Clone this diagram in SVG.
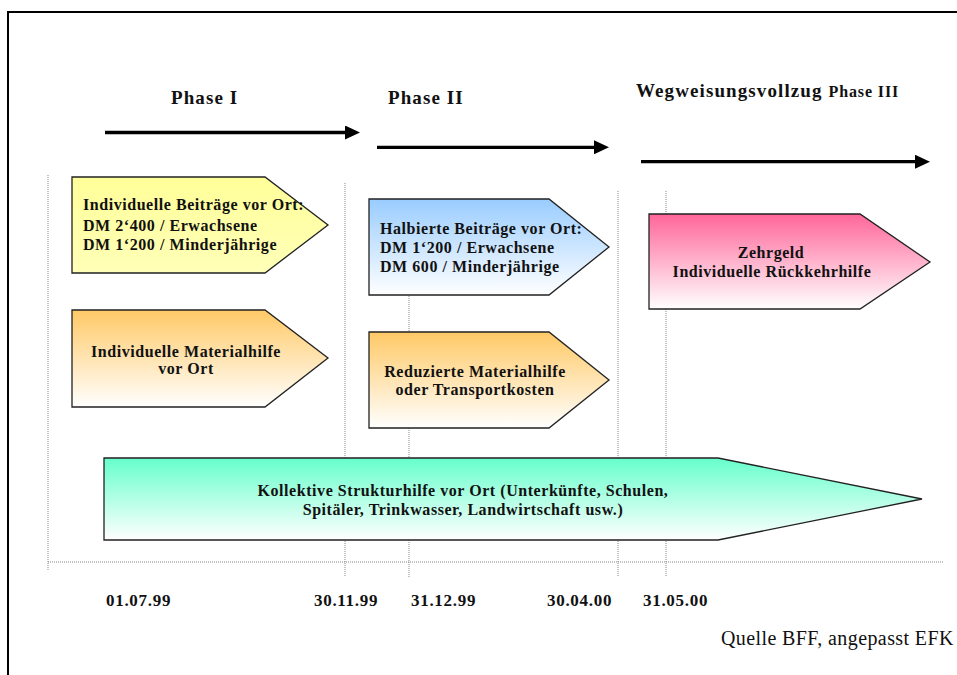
<svg xmlns="http://www.w3.org/2000/svg" width="957" height="675" viewBox="0 0 957 675">
<style>
text{font-family:"Liberation Serif","Times New Roman",serif;font-weight:bold;fill:#111;}
.ph{font-size:19px;letter-spacing:1.1px;}
.bx{font-size:16px;letter-spacing:0.55px;}
.dt{font-size:17px;letter-spacing:0.7px;}
.src{font-size:20px;font-weight:normal;letter-spacing:0.4px;}
.shape{stroke:#222;stroke-width:1.3;}
.grid{stroke:#888;stroke-width:1;stroke-dasharray:1 1;fill:none;}
.arr{stroke:#000;stroke-width:3.3;fill:none;marker-end:url(#ah);}
</style>
<defs>
<marker id="ah" markerUnits="userSpaceOnUse" markerWidth="16" markerHeight="14" refX="0" refY="7" orient="auto"><path d="M0,0 L15,7 L0,14 Z" fill="#000"/></marker>
<linearGradient id="gY" x1="0" y1="0" x2="0" y2="1"><stop offset="0" stop-color="#FFFF99"/><stop offset="1" stop-color="#FFFFB8"/></linearGradient>
<linearGradient id="gO" x1="0" y1="0" x2="0" y2="1"><stop offset="0" stop-color="#FFC966"/><stop offset="1" stop-color="#FFFFFF"/></linearGradient>
<linearGradient id="gB" x1="0" y1="0" x2="0" y2="1"><stop offset="0" stop-color="#99CCFF"/><stop offset="1" stop-color="#FFFFFF"/></linearGradient>
<linearGradient id="gP" x1="0" y1="0" x2="0" y2="1"><stop offset="0" stop-color="#FF6699"/><stop offset="1" stop-color="#FFFFFF"/></linearGradient>
<linearGradient id="gG" x1="0" y1="0" x2="0" y2="1"><stop offset="0" stop-color="#66FFCC"/><stop offset="1" stop-color="#FFFFFF"/></linearGradient>
</defs>
<rect x="0" y="0" width="957" height="675" fill="#fff"/>
<rect x="8" y="12" width="1000" height="700" fill="none" stroke="#000" stroke-width="2"/>

<g id="grid">
<line class="grid" x1="48" y1="175" x2="48" y2="570"/>
<line class="grid" x1="48" y1="562" x2="944" y2="562"/>
<line class="grid" x1="345" y1="183" x2="345" y2="577"/>
<line class="grid" x1="409" y1="200" x2="409" y2="577"/>
<line class="grid" x1="618" y1="191" x2="618" y2="577"/>
<line class="grid" x1="666" y1="191" x2="666" y2="577"/>
</g>

<g id="connectors">
<line class="arr" x1="105" y1="132.5" x2="345" y2="132.5"/>
<line class="arr" x1="377" y1="147.3" x2="594" y2="147.3"/>
<line class="arr" x1="641" y1="161.7" x2="915" y2="161.7"/>
</g>

<g id="phase1"><text class="ph" x="171" y="104">Phase I</text></g>
<g id="phase2"><text class="ph" x="388" y="104">Phase II</text></g>
<g id="phase3"><text class="ph" x="636" y="97">Wegweisungsvollzug <tspan style="font-size:16px;letter-spacing:0.9px">Phase III</tspan></text></g>

<g id="box-beitraege">
<path class="shape" d="M72,177 L265,177 L328,225 L265,273 L72,273 Z" fill="url(#gY)"/>
<text class="bx" x="83" y="210">Individuelle Beiträge vor Ort:</text>
<text class="bx" x="83" y="230.5">DM 2‘400 / Erwachsene</text>
<text class="bx" x="83" y="249.5">DM 1‘200 / Minderjährige</text>
</g>

<g id="box-materialhilfe">
<path class="shape" d="M72,310 L265,310 L328,358 L265,407 L72,407 Z" fill="url(#gO)"/>
<text class="bx" x="186" y="356.5" text-anchor="middle">Individuelle Materialhilfe</text>
<text class="bx" x="186" y="373.5" text-anchor="middle">vor Ort</text>
</g>

<g id="box-halbierte">
<path class="shape" d="M369,199 L549,199 L609,247 L549,295 L369,295 Z" fill="url(#gB)"/>
<text class="bx" x="380" y="234">Halbierte Beiträge vor Ort:</text>
<text class="bx" x="380" y="253">DM 1‘200 / Erwachsene</text>
<text class="bx" x="380" y="272">DM 600 / Minderjährige</text>
</g>

<g id="box-reduzierte">
<path class="shape" d="M369,332 L549,332 L609,380 L549,428 L369,428 Z" fill="url(#gO)"/>
<text class="bx" x="475" y="377" text-anchor="middle">Reduzierte Materialhilfe</text>
<text class="bx" x="475" y="395" text-anchor="middle">oder Transportkosten</text>
</g>

<g id="box-zehrgeld">
<path class="shape" d="M649,214 L860,214 L930,262 L860,309 L649,309 Z" fill="url(#gP)"/>
<text class="bx" x="771" y="257.5" text-anchor="middle">Zehrgeld</text>
<text class="bx" x="772" y="277" text-anchor="middle">Individuelle Rückkehrhilfe</text>
</g>

<g id="box-kollektive">
<path class="shape" d="M104,458 L718,458 L922,499 L718,540 L104,540 Z" fill="url(#gG)"/>
<text class="bx" x="463" y="495.5" text-anchor="middle">Kollektive Strukturhilfe vor Ort (Unterkünfte, Schulen,</text>
<text class="bx" x="463" y="515" text-anchor="middle">Spitäler, Trinkwasser, Landwirtschaft usw.)</text>
</g>

<g id="dates">
<text class="dt" x="106" y="606">01.07.99</text>
<text class="dt" x="314" y="606">30.11.99</text>
<text class="dt" x="411" y="606">31.12.99</text>
<text class="dt" x="547" y="606">30.04.00</text>
<text class="dt" x="643" y="606">31.05.00</text>
</g>

<g id="source"><text class="src" x="721" y="645">Quelle BFF, angepasst EFK</text></g>
</svg>
